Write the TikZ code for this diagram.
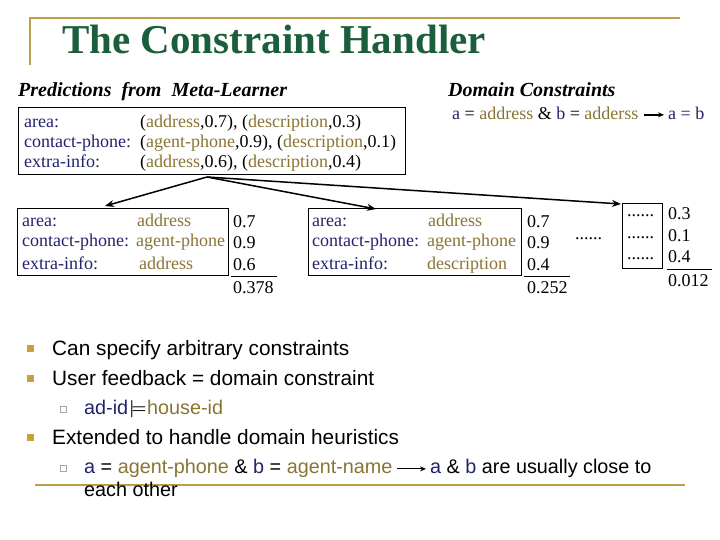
\documentclass[tikz,border=0pt]{standalone}
\usepackage{fontspec}
\setmainfont{Liberation Serif}
\newfontfamily\arial{Liberation Sans}
\usetikzlibrary{arrows.meta}
\definecolor{tgreen}{HTML}{1B5E3B}
\definecolor{goldline}{HTML}{B9A049}
\definecolor{bgold}{HTML}{C9A13A}
\definecolor{navy}{HTML}{22226E}
\definecolor{olive}{HTML}{8A7434}
\newcommand{\nv}[1]{\textcolor{navy}{#1}}
\newcommand{\ol}[1]{\textcolor{olive}{#1}}
\begin{document}
\begin{tikzpicture}[x=1pt,y=-1pt,
  txt/.style={anchor=base west, inner sep=0pt, font=\fontsize{18}{20}\selectfont},
  head/.style={anchor=base west, inner sep=0pt, font=\bfseries\itshape\fontsize{20}{22}\selectfont},
  bul/.style={anchor=base west, inner sep=0pt, font=\arial\fontsize{20.8}{23}\selectfont},
  subbul/.style={anchor=base west, inner sep=0pt, font=\arial\fontsize{19.8}{22}\selectfont},
  boxn/.style={draw, line width=0.8pt, anchor=north west, inner sep=0pt},
  conn/.style={-{Stealth[length=9pt,width=7pt]}, line width=1.5pt},
  smallarr/.style={-{Stealth[length=6pt,width=5pt]}, line width=0.9pt},
  bigsq/.style={fill=bgold, minimum size=7pt, inner sep=0pt},
  subsq/.style={draw=gray!70, fill=white, line width=0.5pt, minimum size=5.5pt, inner sep=0pt},
  rule/.style={line width=0.8pt}
]
\useasboundingbox (0,0) rectangle (720,540);
% frame lines
\draw[goldline, line width=1.6pt] (30,65) -- (30,18) -- (680,18);
\draw[goldline, line width=1.6pt] (35,485) -- (685,485);
% title
\node[anchor=base west, inner sep=0pt, font=\bfseries\fontsize{41}{45}\selectfont, text=tgreen] (title) at (62,54) {The Constraint Handler};
% headings
\node[head] (hpred) at (18,97) {Predictions\hspace{5pt} from\hspace{5pt} Meta-Learner};
\node[head] (hdom) at (448,97) {Domain Constraints};
% domain constraint line
\node[txt] (dc1) at (452,120) {\nv{a} = \ol{address} \& \nv{b} = \ol{adderss}};
\node[txt] (dc2) at (668,120) {\nv{a = b}};
\draw[-{Stealth[length=6pt,width=5pt]}, line width=1.5pt] ([xshift=5pt,yshift=-1pt]dc1.east) -- ([xshift=-4pt,yshift=-1pt]dc2.west);
% predictions box
\node[boxn, minimum width=387pt, minimum height=67pt] (pbox) at (18,107) {};
\node[txt] (p1l) at (24,128) {\nv{area:}};
\node[txt] (p2l) at (24,148) {\nv{contact-phone:}};
\node[txt] (p3l) at (24,168) {\nv{extra-info:}};
\node[txt] (p1v) at (140,128) {(\ol{address},0.7), (\ol{description},0.3)};
\node[txt] (p2v) at (140,148) {(\ol{agent-phone},0.9), (\ol{description},0.1)};
\node[txt] (p3v) at (140,168) {(\ol{address},0.6), (\ol{description},0.4)};
% candidate box 1
\node[boxn, minimum width=211pt, minimum height=67pt] (c1) at (17,208) {};
\node[txt] at (22,226) {\nv{area:}};
\node[txt] at (22,247) {\nv{contact-phone:}};
\node[txt] at (22,269) {\nv{extra-info:}};
\node[txt] at (137,226) {\ol{address}};
\node[txt] at (136,247) {\ol{agent-phone}};
\node[txt] at (139,269) {\ol{address}};
\node[txt] (c1n1) at (233,227) {0.7};
\node[txt] (c1n2) at (233,248) {0.9};
\node[txt] (c1n3) at (233,270) {0.6};
\draw[rule] (231,276) -- (277,276);
\node[txt] (c1t) at (233,293) {0.378};
% candidate box 2
\node[boxn, minimum width=213pt, minimum height=67pt] (c2) at (308,208) {};
\node[txt] at (312,226) {\nv{area:}};
\node[txt] at (312,247) {\nv{contact-phone:}};
\node[txt] at (312,269) {\nv{extra-info:}};
\node[txt] at (428,226) {\ol{address}};
\node[txt] at (427,247) {\ol{agent-phone}};
\node[txt] at (427,269) {\ol{description}};
\node[txt] (c2n1) at (527,227) {0.7};
\node[txt] (c2n2) at (527,248) {0.9};
\node[txt] (c2n3) at (527,270) {0.4};
\draw[rule] (524,276) -- (570,276);
\node[txt] (c2t) at (527,293) {0.252};
% lone dots
\node[txt] (ldots) at (575,240) {......};
% candidate box 3
\node[boxn, minimum width=40pt, minimum height=65pt] (c3) at (622,203) {};
\node[txt] at (627,217) {......};
\node[txt] at (627,238) {......};
\node[txt] at (627,259) {......};
\node[txt] (c3n1) at (668,220) {0.3};
\node[txt] (c3n2) at (668,241) {0.1};
\node[txt] (c3n3) at (668,262) {0.4};
\draw[rule] (667,269) -- (712,269);
\node[txt] (c3t) at (668,286) {0.012};
% connectors
\coordinate (src) at (207,177);
\coordinate (t1) at (105,206);
\coordinate (t2) at (376,209);
\coordinate (t3) at (621,204);
\draw[conn] (src) -- (t1);
\draw[conn] (src) -- (t2);
\draw[conn] (src) -- (t3);
% bullets
\node[bigsq] (b1) at (30,348) {};
\node[bigsq] (b2) at (30,378) {};
\node[bigsq] (b3) at (30,437) {};
\node[subsq] (s1) at (63,409) {};
\node[subsq] (s2) at (63,468) {};
\node[bul] (l1) at (52,355) {Can specify arbitrary constraints};
\node[bul] (l2) at (52,385) {User feedback = domain constraint};
\node[subbul] (l3a) at (84,414) {\nv{ad-id}};
\node[anchor=base west, inner sep=0pt, font=\boldmath\fontsize{17}{19}\selectfont] (l3b) at (129,413) {$\models$};
\node[subbul] (l3c) at (147,414) {\ol{house-id}};
\node[bul] (l4) at (52,444) {Extended to handle domain heuristics};
\node[subbul] (l5a) at (84,473) {\nv{a} = \ol{agent-phone} \& \nv{b} = \ol{agent-name}};
\node[subbul] (l5b) at (430,473) {\nv{a} \& \nv{b} are usually close to};
\draw[smallarr] ([xshift=4pt,yshift=-1pt]l5a.east) -- ([xshift=-4pt,yshift=-1pt]l5b.west);
\node[subbul] (l6) at (84,496) {each other};
\end{tikzpicture}
\end{document}
